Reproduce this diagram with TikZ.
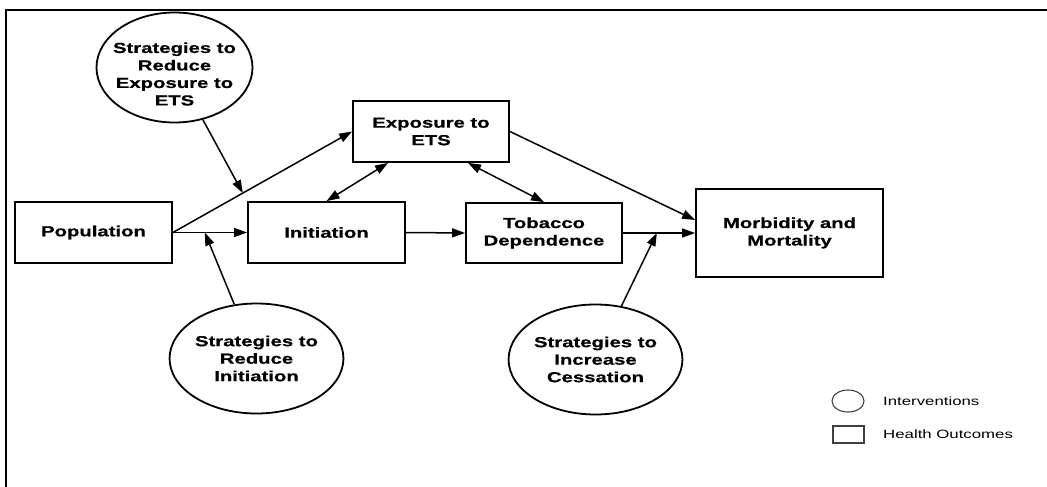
\documentclass[tikz,border=0pt]{standalone}
\usepackage{fontspec}
\setmainfont{Liberation Sans}
\newfontfamily\wideface[FakeStretch=1.4,BoldFeatures={FakeBold=0.6}]{Liberation Sans}
\usetikzlibrary{arrows.meta,shapes.geometric,calc}
\tikzset{
  lbl/.style={align=center, inner sep=0pt, font={\fontsize{14.5}{17.5}\wideface\bfseries}},
  box/.style={lbl, draw, line width=1.8pt},
  ell/.style={lbl, draw, ellipse, line width=1.8pt, minimum width=156pt, minimum height=110pt},
  arr/.style={-{Triangle[length=13pt,width=9pt]}, line width=1.5pt},
  darr/.style={{Triangle[length=13pt,width=9pt]}-{Triangle[length=13pt,width=9pt]}, line width=1.5pt},
  legtext/.style={anchor=west, inner sep=0pt, font={\fontsize{12}{14}\wideface}},
  legshape/.style={draw=black!75, line width=1.1pt, inner sep=0pt}
}
\begin{document}
\begin{tikzpicture}[x=1pt,y=-1pt]
\useasboundingbox (0,0) rectangle (1047,487);
% frame
\draw[line width=1.6pt] (6,487) -- (6,10) -- (1047,10);
% boxes
\node[box, minimum width=157pt, minimum height=61pt] (pop) at (93.5,232.5) {Population};
\node[box, minimum width=157pt, minimum height=61pt] (init) at (326.5,232.5) {Initiation};
\node[box, minimum width=156pt, minimum height=61pt] (expo) at (431,131.5) {Exposure to\\ETS};
\node[box, minimum width=156pt, minimum height=60pt] (tob) at (544,233) {Tobacco\\Dependence};
\node[box, minimum width=187pt, minimum height=88pt] (morb) at (789.5,233) {Morbidity and\\Mortality};
% ellipses
\node[ell] (e1) at (174.5,67.5) {};
\node[lbl] (e1t) at (174.5,74) {Strategies to\\Reduce\\Exposure to\\ETS};
\node[ell] (e2) at (256.5,358.5) {Strategies to\\Reduce\\Initiation};
\node[ell] (e3) at (595.5,359.5) {Strategies to\\Increase\\Cessation};
% intervention points
\coordinate (p1) at ($(pop.east)!0.39!(expo.west)$);
\coordinate (p2) at ($(pop.east)!0.43!(init.west)$);
\coordinate (p3) at ($(tob.east)!0.47!(morb.west)$);
% connectors
\draw[arr] (pop.east) -- (init.west);
\draw[arr] (pop.east) -- (expo.west);
\draw[arr] (e1) -- (p1);
\draw[arr] (e2) -- (p2);
\draw[darr] (init.north) -- ([xshift=-43pt]expo.south);
\draw[darr] ([xshift=37pt]expo.south) -- (tob.north);
\draw[arr] (init.east) -- (tob.west);
\draw[arr] (tob.east) -- (morb.west);
\draw[arr] (expo.east) -- ([yshift=13pt]morb.west);
\draw[arr] (e3) -- (p3);
% legend
\node[legshape, ellipse, minimum width=32pt, minimum height=22pt] (lc) at (848,401) {};
\node[legshape, rectangle, minimum width=31pt, minimum height=17pt] (ls) at (848.5,434.5) {};
\node[legtext] (lct) at (883,401) {Interventions};
\node[legtext] (lst) at (883,434.5) {Health Outcomes};
\end{tikzpicture}
\end{document}
